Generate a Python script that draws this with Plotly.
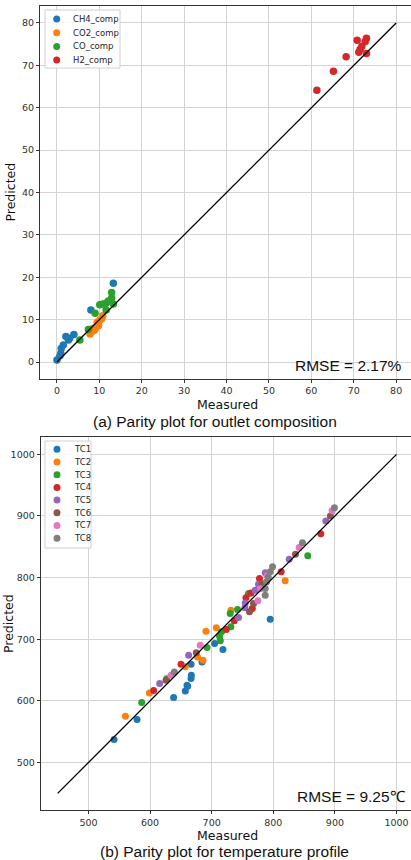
import plotly.graph_objects as go

W, H = 411, 860

# ---------------- data: (a) outlet composition ----------------
comp_names = ["CH4_comp", "CO2_comp", "CO_comp", "H2_comp"]
ch4_meas = [0.0, 0.7, 0.9, 1.0, 1.5, 2.1, 2.7, 3.0, 4.0, 8.0, 13.3]
ch4_pred = [0.5, 1.5, 2.0, 3.2, 4.0, 6.0, 5.2, 5.6, 6.5, 12.3, 18.6]
co2_meas = [7.8, 8.4, 8.5, 8.9, 9.2, 9.5, 9.6, 9.8, 10.1, 10.5, 10.8]
co2_pred = [6.6, 7.9, 7.3, 7.6, 8.2, 9.4, 8.8, 8.6, 9.9, 10.2, 10.9]
co_meas = [5.4, 7.4, 9.0, 10.1, 10.8, 11.6, 11.6, 12.1, 12.9, 12.9, 13.3]
co_pred = [5.2, 7.7, 11.5, 13.5, 13.7, 13.9, 12.3, 14.4, 15.1, 16.4, 13.7]
h2_meas = [61.3, 65.2, 68.2, 70.8, 71.2, 71.5, 71.9, 72.7, 73.0, 73.0]
h2_pred = [64.1, 68.6, 72.0, 75.9, 73.1, 73.8, 74.5, 75.6, 76.4, 72.8]
comp_ticks = [0, 10, 20, 30, 40, 50, 60, 70, 80]
comp_line = [0, 80]
rmse_comp = "RMSE = 2.17%"

# ---------------- data: (b) temperature profile ----------------
tc_names = ["TC1", "TC2", "TC3", "TC4", "TC5", "TC6", "TC7", "TC8"]
tc1_meas = [541.6, 578.9, 638.2, 657.2, 660.0, 661.0, 666.5, 667.0, 666.5, 684.3, 704.8, 718.3, 795.0]
tc1_pred = [537.3, 569.8, 605.5, 616.2, 625.5, 623.9, 636.4, 641.7, 659.6, 663.3, 693.2, 683.4, 732.6]
tc2_meas = [560.0, 598.9, 657.2, 677.1, 685.9, 690.7, 707.5, 731.2, 819.3]
tc2_pred = [575.2, 613.0, 655.2, 671.4, 666.0, 713.1, 718.5, 747.2, 794.8]
tc3_meas = [586.4, 627.0, 692.4, 712.8, 714.0, 716.0, 731.2, 730.1, 742.0, 759.8, 856.0]
tc3_pred = [597.4, 636.0, 686.7, 705.0, 697.4, 712.0, 720.1, 741.9, 748.4, 774.4, 835.4]
tc4_meas = [605.8, 650.2, 723.7, 736.6, 755.6, 764.0, 766.0, 777.6, 812.8, 877.1]
tc4_pred = [616.9, 659.6, 715.9, 729.9, 767.2, 775.0, 750.0, 798.7, 809.4, 871.1]
tc5_meas = [615.6, 662.6, 743.6, 754.0, 754.5, 770.7, 776.0, 787.0, 825.8, 885.2]
tc5_pred = [628.2, 674.2, 735.4, 751.0, 759.0, 779.7, 789.4, 807.8, 830.0, 891.7]
tc6_meas = [625.9, 675.0, 761.4, 768.0, 782.0, 836.0, 892.7]
tc6_pred = [633.6, 678.0, 744.5, 758.0, 790.0, 838.1, 899.8]
tc7_meas = [634.0, 681.5, 775.0, 779.0, 790.0, 842.0, 895.5]
tc7_pred = [641.7, 690.4, 762.3, 782.0, 803.0, 849.0, 908.4]
tc8_meas = [639.4, 786.9, 786.9, 789.0, 791.7, 795.0, 798.8, 847.3, 899.2]
tc8_pred = [647.0, 771.6, 782.5, 793.0, 801.0, 809.4, 817.5, 856.5, 913.3]
temp_ticks = [500, 600, 700, 800, 900, 1000]
temp_line = [450, 1000]
rmse_temp = "RMSE = 9.25\u2103"

colors = ["#1f77b4", "#ff7f0e", "#2ca02c", "#d62728",
          "#9467bd", "#8c564b", "#e377c2", "#7f7f7f"]

comp_series = [(ch4_meas, ch4_pred), (co2_meas, co2_pred),
               (co_meas, co_pred), (h2_meas, h2_pred)]
tc_series = [(tc1_meas, tc1_pred), (tc2_meas, tc2_pred), (tc3_meas, tc3_pred),
             (tc4_meas, tc4_pred), (tc5_meas, tc5_pred), (tc6_meas, tc6_pred),
             (tc7_meas, tc7_pred), (tc8_meas, tc8_pred)]

fig = go.Figure()

for i, (name, (mx, py)) in enumerate(zip(comp_names, comp_series)):
    fig.add_trace(go.Scatter(x=mx, y=py, mode="markers", name=name,
                             marker=dict(color=colors[i], size=7.5, line=dict(width=0)),
                             xaxis="x", yaxis="y", showlegend=False))
fig.add_trace(go.Scatter(x=comp_line, y=comp_line, mode="lines",
                         line=dict(color="black", width=1.3),
                         xaxis="x", yaxis="y", showlegend=False))

for i, (name, (mx, py)) in enumerate(zip(tc_names, tc_series)):
    fig.add_trace(go.Scatter(x=mx, y=py, mode="markers", name=name,
                             marker=dict(color=colors[i], size=7, line=dict(width=0)),
                             xaxis="x2", yaxis="y2", showlegend=False))
fig.add_trace(go.Scatter(x=temp_line, y=temp_line, mode="lines",
                         line=dict(color="black", width=1.3),
                         xaxis="x2", yaxis="y2", showlegend=False))


def px_x(p):
    return p / W


def px_y(p):
    return (H - p) / H


tick_font = dict(family="DejaVu Sans", size=9.5, color="#303030")
axis_common = dict(showgrid=True, gridcolor="#d3d3d3", gridwidth=1,
                   showline=True, linecolor="#333333", linewidth=1,
                   ticks="outside", ticklen=3, tickcolor="#333333",
                   tickfont=tick_font, zeroline=False)

fig.update_layout(
    width=W, height=H,
    margin=dict(l=0, r=0, t=0, b=0),
    paper_bgcolor="white", plot_bgcolor="white",
    showlegend=False,
    xaxis=dict(domain=[px_x(40), 1], range=[-4, 83.5], tickvals=comp_ticks,
               anchor="y", mirror=True, **axis_common),
    yaxis=dict(domain=[px_y(379), px_y(6)], range=[-4, 84], tickvals=comp_ticks,
               anchor="x", mirror=False, **axis_common),
    xaxis2=dict(domain=[px_x(40.7), 1], range=[422.5, 1023.5], tickvals=temp_ticks,
                anchor="y2", mirror=True, **axis_common),
    yaxis2=dict(domain=[px_y(810.3), px_y(437.4)], range=[422.5, 1027.5], tickvals=temp_ticks,
                anchor="x2", mirror=False, **axis_common),
)

shapes = []
annotations = []

# white boxes behind RMSE texts (interrupt gridlines)
shapes.append(dict(type="rect", xref="paper", yref="paper",
                   x0=px_x(290), x1=1, y0=px_y(377.5), y1=px_y(341),
                   fillcolor="white", line=dict(width=0), layer="between"))
shapes.append(dict(type="rect", xref="paper", yref="paper",
                   x0=px_x(292), x1=1, y0=px_y(809), y1=px_y(773),
                   fillcolor="white", line=dict(width=0), layer="between"))

label_font = dict(family="Liberation Sans, Arial", size=15.5, color="#111111")
annotations.append(dict(text=rmse_comp, xref="paper", yref="paper",
                        x=px_x(348.7), y=px_y(365), showarrow=False,
                        xanchor="center", yanchor="middle", font=label_font))
annotations.append(dict(text=rmse_temp, xref="paper", yref="paper",
                        x=px_x(351.7), y=px_y(796), showarrow=False,
                        xanchor="center", yanchor="middle", font=label_font))

# axis titles
ax_font = dict(family="DejaVu Sans", size=12.5, color="#111111")
annotations.append(dict(text="Measured", xref="paper", yref="paper",
                        x=px_x(227), y=px_y(404), showarrow=False,
                        xanchor="center", yanchor="middle", font=ax_font))
annotations.append(dict(text="Measured", xref="paper", yref="paper",
                        x=px_x(227.5), y=px_y(835), showarrow=False,
                        xanchor="center", yanchor="middle", font=ax_font))
annotations.append(dict(text="Predicted", xref="paper", yref="paper",
                        x=px_x(10), y=px_y(192.5), showarrow=False, textangle=-90,
                        xanchor="center", yanchor="middle", font=ax_font))
annotations.append(dict(text="Predicted", xref="paper", yref="paper",
                        x=px_x(8), y=px_y(624), showarrow=False, textangle=-90,
                        xanchor="center", yanchor="middle", font=ax_font))

# captions
annotations.append(dict(text="(a) Parity plot for outlet composition", xref="paper", yref="paper",
                        x=px_x(214.7), y=px_y(421), showarrow=False,
                        xanchor="center", yanchor="middle", font=label_font))
annotations.append(dict(text="(b) Parity plot for temperature profile", xref="paper", yref="paper",
                        x=px_x(224), y=px_y(851), showarrow=False,
                        xanchor="center", yanchor="middle", font=label_font))

# legends (matplotlib-style boxes)
leg_font = dict(family="DejaVu Sans", size=8.5, color="#262626")


def add_legend(names, box, y0, step, mx, tx):
    shapes.append(dict(type="rect", xref="paper", yref="paper",
                       x0=px_x(box[0]), x1=px_x(box[1]), y0=px_y(box[3]), y1=px_y(box[2]),
                       fillcolor="rgba(255,255,255,0.85)",
                       line=dict(color="#d0d0d0", width=1), layer="above"))
    for i, nm in enumerate(names):
        cy = y0 + step * i
        shapes.append(dict(type="circle", xref="paper", yref="paper",
                           xsizemode="pixel", ysizemode="pixel",
                           xanchor=px_x(mx), yanchor=px_y(cy),
                           x0=-3.5, x1=3.5, y0=-3.5, y1=3.5,
                           fillcolor=colors[i], line=dict(width=0), layer="above"))
        annotations.append(dict(text=nm, xref="paper", yref="paper",
                                x=px_x(tx), y=px_y(cy), showarrow=False,
                                xanchor="left", yanchor="middle", font=leg_font))


add_legend(comp_names, (45, 120, 10, 68), 19.0, 13.7, 56.7, 70.5)
add_legend(tc_names, (45, 91, 441, 548), 449.3, 12.7, 57.0, 71.5)

fig.update_layout(shapes=shapes, annotations=annotations)

fig.write_html("out.html", config={"displayModeBar": False},
               post_script="document.body.style.margin='0';")
